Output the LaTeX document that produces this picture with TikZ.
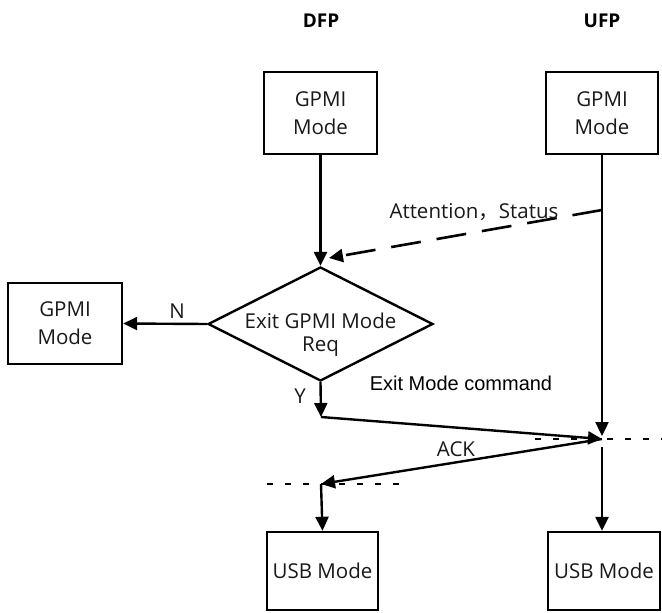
\documentclass[tikz,border=0pt]{standalone}
\usepackage{fontspec}
\setmainfont{Open Sans}
\newfontfamily\cjk{Noto Sans CJK SC}
\newfontfamily\arialf{Liberation Sans}
\usetikzlibrary{arrows.meta,shapes.geometric}
\begin{document}
\begin{tikzpicture}[x=1pt,y=-1pt,
  txt/.style={font=\fontsize{20.5}{28}\selectfont,text=black!90},
  box/.style={txt,draw,line width=2.4pt,inner sep=0pt,align=center},
  conn/.style={line width=2.4pt,-{Triangle[length=14pt,width=13pt]}},
  dotline/.style={line width=2.6pt,dash pattern=on 6pt off 12pt},
  dashline/.style={line width=2.6pt,dash pattern=on 30pt off 16pt,-{Triangle[length=14pt,width=13pt]}},
  head/.style={font=\bfseries\fontsize{19}{22}\selectfont}]
\useasboundingbox (0,0) rectangle (662,613);

% headers
\node[head] (dfp) at (321,21) {DFP};
\node[head] (ufp) at (602,21) {UFP};

% boxes
\node[box,minimum width=113pt,minimum height=82pt] (g1) at (320.5,113) {GPMI\\Mode};
\node[box,minimum width=112pt,minimum height=82pt] (g2) at (602,113) {GPMI\\Mode};
\node[box,minimum width=114pt,minimum height=81pt] (g3) at (65,323.5) {GPMI\\Mode};
\node[box,minimum width=111pt,minimum height=78pt] (u1) at (322.5,571) {USB Mode};
\node[box,minimum width=112pt,minimum height=78pt] (u2) at (604,571) {USB Mode};

% decision
\node[diamond,draw,line width=2.4pt,minimum width=225pt,minimum height=114pt,inner sep=0pt] (d) at (320.5,324) {};
\node[txt,align=center,font=\fontsize{20.5}{23}\selectfont] (dt) at (320.5,335) {Exit GPMI Mode\\Req};

% coordinates
\coordinate (att) at (602,210);
\coordinate (atttip) at (329,258);
\coordinate (yend) at (321,417);
\coordinate (pu) at (602,439);
\coordinate (pd) at (321,484);
\coordinate (dl1) at (535,439);
\coordinate (dr1) at (662,439);
\coordinate (dl2) at (267,484);
\coordinate (dr2) at (400,484);

% dotted timing lines
\draw[dotline] (dl1) -- (dr1);
\draw[dotline] (dl2) -- (dr2);

% connectors
\draw[conn] (g1.south) -- (d.north);
\draw[dashline] (att) -- (atttip);
\draw[conn] (d.west) -- (g3.east);
\draw[conn] (d.south) -- (yend);
\draw[conn] (yend) -- (pu);
\draw[conn,shorten >=3pt] (g2.south) -- (pu);
\draw[conn] (pu) -- (pd);
\draw[conn,shorten <=8pt] (pu) -- (pu |- u2.north);
\draw[conn] (pd) -- (u1.north);

% labels
\node[txt] (attl) at (474,212) {Attention{\cjk ，}Status};
\node[txt] (nl) at (177,311) {N};
\node[txt] (yl) at (300,396) {Y};
\node[txt] (ack) at (456,449) {ACK};
\node[font=\arialf\fontsize{20}{22}\selectfont] (cmd) at (461,383) {Exit Mode command};
\end{tikzpicture}
\end{document}
